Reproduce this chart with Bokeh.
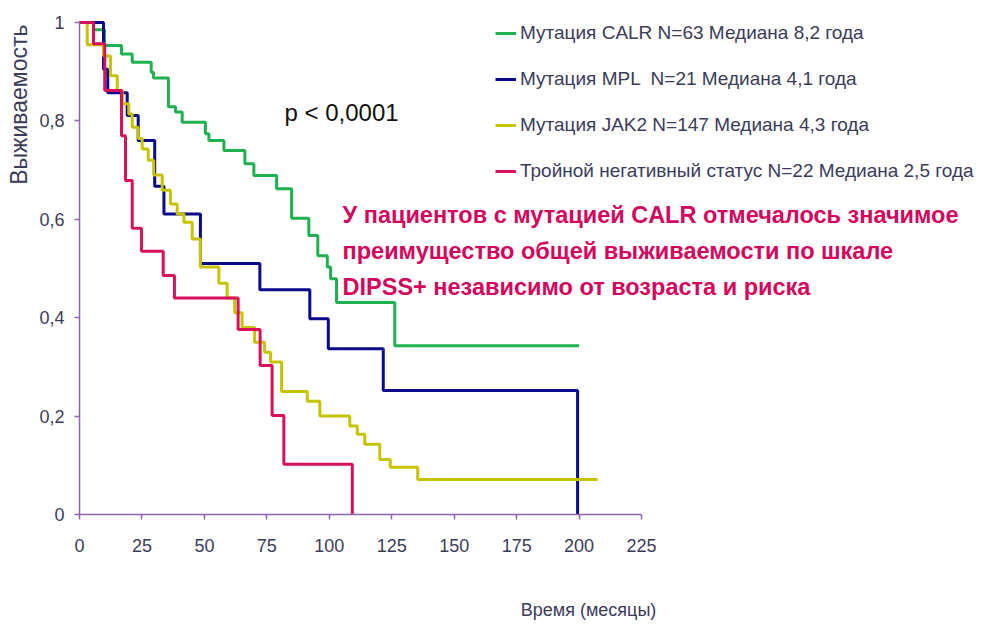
import math
from bokeh.plotting import figure
from bokeh.models import (Range1d, FixedTicker, CustomJSTickFormatter, Label,
                          Legend, LegendItem)
from bokeh.embed import file_html
from bokeh.resources import INLINE

# ---- data ----
calr_t = [0, 5.6, 10, 16.8, 21.1, 28.7, 29.6, 35.6, 38.4, 41.1, 50.4, 51.8, 57.8,
          66.2, 69.8, 78.9, 84.9, 91.8, 95.4, 99.2, 100.5, 102.9, 126.2, 200]
calr_s = [1.0, 0.985, 0.953, 0.936, 0.919, 0.899, 0.887, 0.829, 0.818, 0.797, 0.774,
          0.76, 0.74, 0.713, 0.689, 0.662, 0.602, 0.567, 0.526, 0.503, 0.479, 0.431,
          0.343, 0.343]

mpl_t = [0, 9.6, 11.3, 19.1, 23.5, 30.1, 33.8, 48.4, 72.2, 92.2, 99.6, 121.6, 199.4]
mpl_s = [1.0, 0.905, 0.857, 0.811, 0.760, 0.667, 0.611, 0.51, 0.457, 0.398, 0.337,
         0.252, 0.0]

jak2_t = [0, 3.1, 9.6, 12.4, 15.1, 17.1, 19.7, 21.1, 23.5, 25.1, 27.5, 29.7, 33.1,
          36.4, 39.1, 41.8, 45.1, 48.4, 55.8, 59.1, 62.1, 65.1, 70.1, 74.1, 76.5,
          80.9, 91.2, 96.2, 108.2, 111.2, 114.2, 120.2, 124.4, 135.4, 207.4]
jak2_s = [1.0, 0.955, 0.932, 0.892, 0.862, 0.835, 0.814, 0.787, 0.764, 0.743, 0.72,
          0.69, 0.659, 0.631, 0.611, 0.594, 0.56, 0.503, 0.47, 0.44, 0.41, 0.38,
          0.35, 0.33, 0.31, 0.25, 0.23, 0.20, 0.18, 0.163, 0.143, 0.112, 0.096,
          0.071, 0.071]

tn_t = [0, 5.6, 10.1, 16.8, 18.4, 21.1, 24.8, 33.5, 38.0, 63.5, 72.3, 77.1, 81.8, 109.2]
tn_s = [1.0, 0.957, 0.862, 0.770, 0.679, 0.582, 0.535, 0.486, 0.44, 0.376, 0.303,
        0.201, 0.102, 0.0]

x_ticks = [0, 25, 50, 75, 100, 125, 150, 175, 200, 225]
y_ticks = [0, 0.2, 0.4, 0.6, 0.8, 1.0]

labels = ["Мутация CALR N=63 Медиана 8,2 года",
          "Мутация MPL  N=21 Медиана 4,1 года",
          "Мутация JAK2 N=147 Медиана 4,3 года",
          "Тройной негативный статус N=22 Медиана 2,5 года"]
colors = ["#1fb04f", "#0a0a8c", "#c8c300", "#d8105c"]

FONT = "Liberation Sans"
TXT = "#3b3b5a"
AXIS = "#8e64b4"

# frame covers the whole canvas; axes are pinned at x=0 / y=0
p = figure(width=984, height=622, x_range=Range1d(-31.63, 362.3),
           y_range=Range1d(-0.2195, 1.0447),
           output_backend="svg", toolbar_location=None,
           min_border_left=0, min_border_right=0, min_border_top=0,
           min_border_bottom=0)
p.outline_line_color = None
p.xgrid.visible = False
p.ygrid.visible = False

for ax in (p.xaxis[0], p.yaxis[0]):
    ax.fixed_location = 0
    ax.axis_line_color = AXIS
    ax.axis_line_width = 1.5
    ax.major_tick_line_color = AXIS
    ax.major_tick_line_width = 1.5
    ax.minor_tick_line_color = None
    ax.major_tick_in = 0
    ax.major_tick_out = 5
    ax.major_label_text_font = FONT
    ax.major_label_text_font_size = "18px"
    ax.major_label_text_color = TXT

p.xaxis.bounds = (0, 225)
p.xaxis.ticker = FixedTicker(ticks=x_ticks)
p.xaxis.major_label_standoff = 19
p.yaxis.bounds = (0, 1)
p.yaxis.ticker = FixedTicker(ticks=y_ticks)
p.yaxis.major_label_standoff = 10
p.yaxis.formatter = CustomJSTickFormatter(
    code="return tick.toFixed(1).replace('.', ',').replace(',0', '')")

series = [(calr_t, calr_s), (mpl_t, mpl_s), (jak2_t, jak2_s), (tn_t, tn_s)]
renderers = []
for (t, s), c in zip(series, colors):
    r = p.step(t, s, mode="after", line_color=c, line_width=3)
    renderers.append(r)

legend = Legend(items=[LegendItem(label=l, renderers=[r]) for l, r in zip(labels, renderers)],
                location=(495, 440), orientation="vertical",
                glyph_width=21, glyph_height=22, label_height=22, spacing=24,
                label_standoff=4, padding=0, margin=0,
                border_line_color=None, background_fill_alpha=0,
                label_text_font=FONT, label_text_font_size="19px",
                label_text_color=TXT)
p.add_layout(legend, "center")

p.add_layout(Label(x=-24.4, y=0.833, text="Выживаемость", angle=math.pi / 2,
                   text_align="center", text_baseline="middle",
                   text_font=FONT, text_font_size="23px", text_color=TXT))
p.add_layout(Label(x=203.8, y=-0.195, text="Время (месяцы)",
                   text_align="center", text_baseline="middle",
                   text_font=FONT, text_font_size="18px", text_color=TXT))
p.add_layout(Label(x=104.9, y=0.817, text="p < 0,0001",
                   text_align="center", text_baseline="middle",
                   text_font=FONT, text_font_size="24px", text_color="#111111"))

notes = ["У пациентов с мутацией CALR отмечалось значимое",
         "преимущество общей выживаемости по шкале",
         "DIPSS+ независимо от возраста и риска"]
for i, line in enumerate(notes):
    p.add_layout(Label(x=105.3, y=0.608 - i * 0.0732, text=line,
                       text_align="left", text_baseline="middle",
                       text_font=FONT, text_font_style="bold",
                       text_font_size="23.5px", text_color="#d4055c"))

open("out.html", "w").write(file_html(p, INLINE))
